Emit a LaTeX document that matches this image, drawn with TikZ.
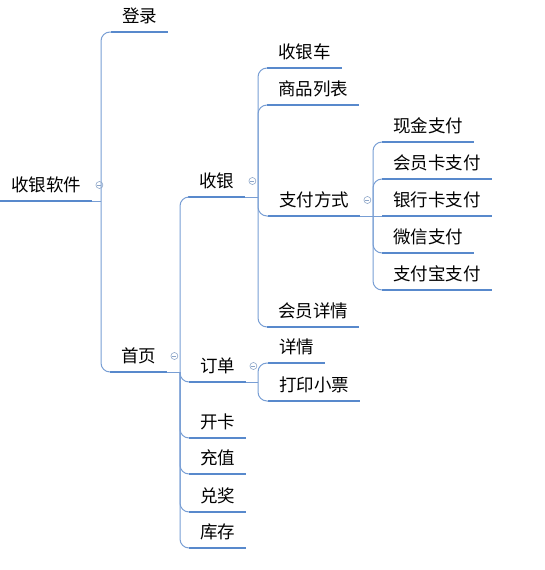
\documentclass[tikz,border=0pt]{standalone}
\usepackage{fontspec}
\newfontfamily\cjk{Noto Sans CJK SC}
\usepackage{tikz}
\usetikzlibrary{positioning}
\definecolor{lineblue}{RGB}{88,137,204}
\definecolor{linklight}{RGB}{120,158,212}
\definecolor{foldgray}{RGB}{140,165,200}

\tikzset{
  uline/.style={lineblue, line width=2.8pt},
  topic/.style={anchor=south west, inner xsep=11pt, inner ysep=9pt, text depth=0pt,
    font=\cjk\fontsize{17.5}{20}\selectfont,
    append after command={(\tikzlastnode.south west) edge[uline] (\tikzlastnode.south east)}},
  link/.style={linklight, line width=1pt, rounded corners=9pt},
  fold/.style={circle, draw=foldgray, line width=0.6pt, minimum size=7pt, inner sep=0pt,
    path picture={\draw[foldgray, line width=0.6pt]
      ([xshift=-2pt]path picture bounding box.center) -- ([xshift=2pt]path picture bounding box.center);}},
}

\begin{document}
\begin{tikzpicture}[x=1pt,y=-1pt]
\useasboundingbox (0,0) rectangle (544,570);

% junction points of the brackets
\coordinate (j-root) at (101,201);
\coordinate (j-home) at (180,372);
\coordinate (j-cash) at (258,197);
\coordinate (j-pay) at (373,216);
\coordinate (j-order) at (258,382);

% topics
\node[topic] (root) at (0,201) {收银软件};
\node[topic] (login) at (111,32) {登录};
\node[topic] (home) at (110,372) {首页};
\node[topic] (cash) at (188,197) {收银};
\node[topic] (order) at (189,382) {订单};
\node[topic] (card) at (189,438) {开卡};
\node[topic] (topup) at (189,474) {充值};
\node[topic] (prize) at (189,512) {兑奖};
\node[topic] (stock) at (189,548) {库存};
\node[topic] (cart) at (267,68) {收银车};
\node[topic] (goods) at (267,105) {商品列表};
\node[topic] (pay) at (268,216) {支付方式};
\node[topic] (member) at (267,327) {会员详情};
\node[topic] (detail) at (268,363) {详情};
\node[topic] (ticket) at (268,401) {打印小票};
\node[topic] (cashpay) at (382,142) {现金支付};
\node[topic] (vippay) at (382,179) {会员卡支付};
\node[topic] (bankpay) at (382,216) {银行卡支付};
\node[topic] (wxpay) at (382,253) {微信支付};
\node[topic] (alipay) at (382,290) {支付宝支付};

% links
\draw[link] (root.south east) -- (j-root);
\foreach \c in {login,home} \draw[link] (j-root) |- (\c.south west);
\draw[link] (home.south east) -- (j-home);
\foreach \c in {cash,order,card,topup,prize,stock} \draw[link] (j-home) |- (\c.south west);
\draw[link] (cash.south east) -- (j-cash);
\foreach \c in {cart,goods,pay,member} \draw[link] (j-cash) |- (\c.south west);
\draw[link] (pay.south east) -- (j-pay);
\draw[link] (j-pay) -- (bankpay.south west);
\foreach \c in {cashpay,vippay,wxpay,alipay} \draw[link] (j-pay) |- (\c.south west);
\draw[link] (order.south east) -- (j-order);
\foreach \c in {detail,ticket} \draw[link] (j-order) |- (\c.south west);

% collapse marks
\node[fold] (f-root) at ([xshift=7pt,yshift=16pt]root.south east) {};
\node[fold] (f-home) at ([xshift=7pt,yshift=16pt]home.south east) {};
\node[fold] (f-cash) at ([xshift=7pt,yshift=16pt]cash.south east) {};
\node[fold] (f-pay) at ([xshift=7pt,yshift=16pt]pay.south east) {};
\node[fold] (f-order) at ([xshift=7pt,yshift=16pt]order.south east) {};
\end{tikzpicture}
\end{document}
